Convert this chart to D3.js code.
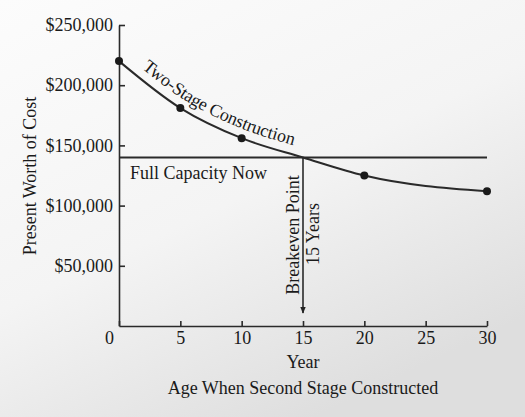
<!DOCTYPE html>
<html>
<head>
<meta charset="utf-8">
<script src="https://cdn.jsdelivr.net/npm/d3@7"></script>
<style>
  html, body { margin: 0; padding: 0; background: #f4f4f4; }
  svg { display: block; }
  text { font-family: "Liberation Serif", "DejaVu Serif", serif; fill: #1a1a1a; }
</style>
</head>
<body>
<svg id="chart" width="525" height="417"></svg>
<script>
// ---- data ----
const curveYears = [0, 5, 10, 15, 20, 30];
const curveCosts = [220000, 181000, 156000, 140000, 125000, 112000];
const dotYears = [0, 5, 10, 20, 30];
const dotCosts = [220000, 181000, 156000, 125000, 112000];
const fullCapacityCost = 140000;
const breakevenYear = 15;
const xTicks = [0, 5, 10, 15, 20, 25, 30];
const yTicks = [50000, 100000, 150000, 200000, 250000];

const svg = d3.select("#chart");
const W = 525, H = 417;
const margin = { left: 119, right: 38, top: 25, bottom: 91 };

// background (scanned paper look)
const defs = svg.append("defs");
const grad = defs.append("linearGradient").attr("id", "bg")
  .attr("x1", "0").attr("y1", "0").attr("x2", "0.6").attr("y2", "1");
grad.append("stop").attr("offset", "0").attr("stop-color", "#fcfcfc");
grad.append("stop").attr("offset", "0.55").attr("stop-color", "#f4f4f4");
grad.append("stop").attr("offset", "1").attr("stop-color", "#dedede");
defs.append("marker").attr("id", "arrow").attr("viewBox", "0 0 10 10")
  .attr("refX", 9).attr("refY", 5).attr("markerWidth", 7).attr("markerHeight", 7)
  .attr("markerUnits", "userSpaceOnUse").attr("orient", "auto")
  .append("path").attr("d", "M0,1 L10,5 L0,9 Z").attr("fill", "#222");
svg.append("rect").attr("width", W).attr("height", H).attr("fill", "url(#bg)");

const x = d3.scaleLinear().domain([0, 30]).range([margin.left, W - margin.right]);
const y = d3.scaleLinear().domain([0, 250000]).range([H - margin.bottom, margin.top]);

const fs = "18px";

// y axis
const yAxis = svg.append("g").attr("transform", `translate(${margin.left},0)`)
  .call(d3.axisLeft(y).tickValues(yTicks).tickSizeInner(-6).tickSizeOuter(0).tickPadding(6)
    .tickFormat(d => "$" + d3.format(",")(d)));
yAxis.selectAll("text").style("font-size", fs).attr("fill", "#1a1a1a").attr("font-family", null);
yAxis.selectAll("line, path").attr("stroke", "#2a2a2a").attr("stroke-width", 1.6);

// x axis
const xAxis = svg.append("g").attr("transform", `translate(0,${y(0)})`)
  .call(d3.axisBottom(x).tickValues(xTicks).tickSizeInner(-5).tickSizeOuter(0).tickPadding(5)
    .tickFormat(d3.format("d")));
xAxis.selectAll("text").style("font-size", fs).attr("fill", "#1a1a1a").attr("font-family", null);
xAxis.selectAll("line, path").attr("stroke", "#2a2a2a").attr("stroke-width", 1.6);
xAxis.selectAll(".tick").filter(d => d === 0).select("text").attr("dx", -10);

// axis titles
svg.append("text").attr("x", x(15)).attr("y", 368).attr("text-anchor", "middle")
  .style("font-size", fs).text("Year");
svg.append("text").attr("x", x(15)).attr("y", 394).attr("text-anchor", "middle")
  .style("font-size", fs).text("Age When Second Stage Constructed");
svg.append("text").attr("transform", `translate(30,176) rotate(-90)`)
  .attr("text-anchor", "middle").attr("dy", "0.35em")
  .style("font-size", fs).text("Present Worth of Cost");

// full capacity line
svg.append("line").attr("x1", x(0)).attr("x2", x(30))
  .attr("y1", y(fullCapacityCost)).attr("y2", y(fullCapacityCost))
  .attr("stroke", "#2a2a2a").attr("stroke-width", 2);
svg.append("text").attr("x", x(0) + 11).attr("y", y(fullCapacityCost) + 22)
  .style("font-size", fs).text("Full Capacity Now");

// two-stage curve
const line = d3.line().x(d => x(d[0])).y(d => y(d[1])).curve(d3.curveMonotoneX);
const curveData = curveYears.map((yr, i) => [yr, curveCosts[i]]);
svg.append("path").attr("id", "twoStage").attr("d", line(curveData))
  .attr("fill", "none").attr("stroke", "#2a2a2a").attr("stroke-width", 2);
svg.selectAll("circle.pt").data(dotYears.map((yr, i) => [yr, dotCosts[i]]))
  .join("circle").attr("class", "pt")
  .attr("cx", d => x(d[0])).attr("cy", d => y(d[1])).attr("r", 4).attr("fill", "#1a1a1a");
svg.append("text").attr("dy", -9).style("font-size", fs)
  .append("textPath").attr("href", "#twoStage").attr("startOffset", 22)
  .text("Two-Stage Construction");

// breakeven arrow
svg.append("line").attr("x1", x(breakevenYear)).attr("x2", x(breakevenYear))
  .attr("y1", y(fullCapacityCost)).attr("y2", y(0) - 13)
  .attr("stroke", "#2a2a2a").attr("stroke-width", 1.6).attr("marker-end", "url(#arrow)");
svg.append("text").attr("transform", `translate(${x(breakevenYear) - 10},235) rotate(-90)`)
  .attr("text-anchor", "middle").attr("dy", "0.35em").style("font-size", fs).text("Breakeven Point");
svg.append("text").attr("transform", `translate(${x(breakevenYear) + 10},234) rotate(-90)`)
  .attr("text-anchor", "middle").attr("dy", "0.35em").style("font-size", fs).text("15 Years");
</script>
</body>
</html>
